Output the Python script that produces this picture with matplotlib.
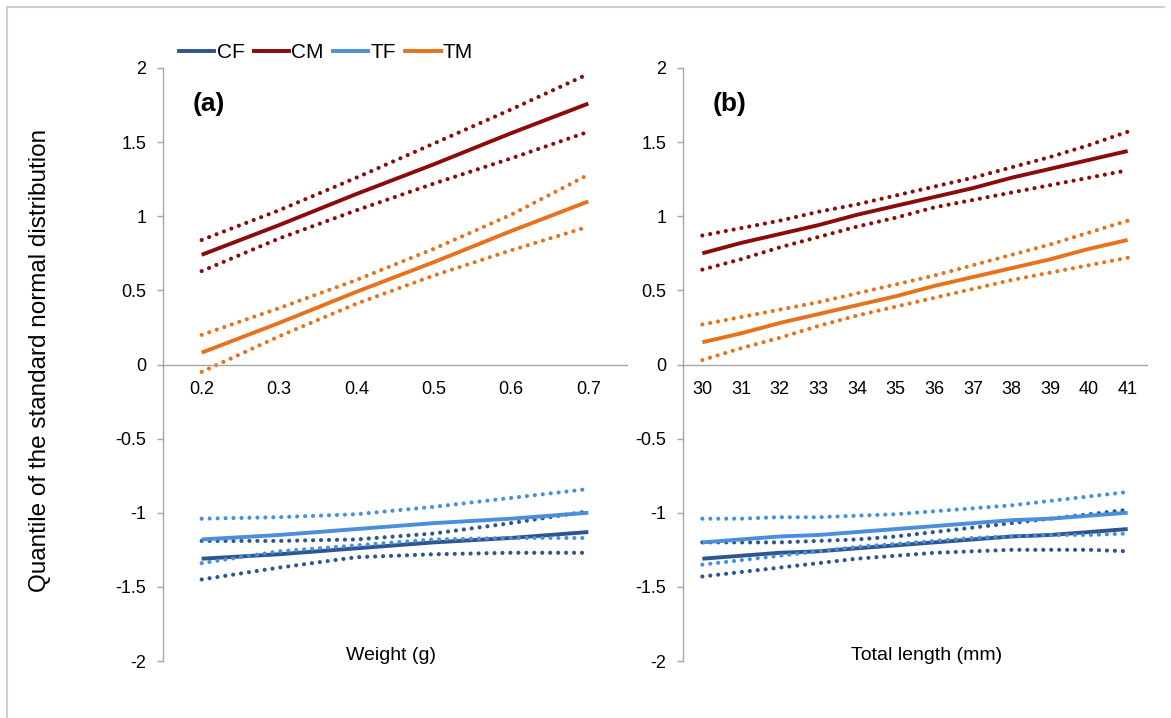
import matplotlib.pyplot as plt
from matplotlib.lines import Line2D

plt.rcParams['font.family'] = ['Liberation Sans', 'DejaVu Sans']

# panel (a): weight categories
weight = [0.2, 0.3, 0.4, 0.5, 0.6, 0.7]
cm_w = [0.74, 0.94, 1.15, 1.35, 1.56, 1.76]
cm_w_hi = [0.84, 1.04, 1.26, 1.49, 1.72, 1.96]
cm_w_lo = [0.63, 0.85, 1.04, 1.22, 1.39, 1.57]
tm_w = [0.08, 0.28, 0.49, 0.69, 0.90, 1.10]
tm_w_hi = [0.20, 0.38, 0.57, 0.78, 1.01, 1.28]
tm_w_lo = [-0.05, 0.19, 0.41, 0.60, 0.77, 0.93]
tf_w = [-1.18, -1.15, -1.11, -1.07, -1.04, -1.00]
tf_w_hi = [-1.04, -1.03, -1.01, -0.96, -0.90, -0.84]
tf_w_lo = [-1.34, -1.26, -1.22, -1.18, -1.17, -1.17]
cf_w = [-1.31, -1.28, -1.24, -1.20, -1.17, -1.13]
cf_w_hi = [-1.19, -1.19, -1.18, -1.14, -1.07, -0.99]
cf_w_lo = [-1.45, -1.37, -1.30, -1.28, -1.27, -1.27]

# panel (b): total length categories
length = [30, 31, 32, 33, 34, 35, 36, 37, 38, 39, 40, 41]
cm_l = [0.75, 0.82, 0.88, 0.94, 1.01, 1.07, 1.13, 1.19, 1.26, 1.32, 1.38, 1.44]
cm_l_hi = [0.87, 0.92, 0.97, 1.03, 1.08, 1.14, 1.20, 1.26, 1.33, 1.40, 1.48, 1.57]
cm_l_lo = [0.64, 0.71, 0.79, 0.86, 0.93, 0.99, 1.06, 1.11, 1.16, 1.21, 1.26, 1.31]
tm_l = [0.15, 0.21, 0.28, 0.34, 0.40, 0.46, 0.53, 0.59, 0.65, 0.71, 0.78, 0.84]
tm_l_hi = [0.27, 0.32, 0.37, 0.42, 0.48, 0.54, 0.60, 0.67, 0.74, 0.81, 0.89, 0.97]
tm_l_lo = [0.03, 0.11, 0.18, 0.26, 0.33, 0.39, 0.45, 0.51, 0.57, 0.62, 0.67, 0.72]
tf_l = [-1.20, -1.18, -1.16, -1.15, -1.13, -1.11, -1.09, -1.07, -1.05, -1.04, -1.02, -1.00]
tf_l_hi = [-1.04, -1.04, -1.03, -1.03, -1.02, -1.01, -0.99, -0.97, -0.95, -0.92, -0.89, -0.86]
tf_l_lo = [-1.35, -1.32, -1.29, -1.26, -1.23, -1.21, -1.19, -1.17, -1.16, -1.15, -1.15, -1.14]
cf_l = [-1.31, -1.29, -1.27, -1.26, -1.24, -1.22, -1.20, -1.18, -1.16, -1.15, -1.13, -1.11]
cf_l_hi = [-1.20, -1.20, -1.20, -1.19, -1.18, -1.16, -1.13, -1.10, -1.07, -1.04, -1.01, -0.98]
cf_l_lo = [-1.43, -1.40, -1.37, -1.34, -1.31, -1.29, -1.27, -1.26, -1.25, -1.25, -1.25, -1.26]

groups = ['CF', 'CM', 'TF', 'TM']
colors = {'CF': '#2E5590', 'CM': '#8B0A0A', 'TF': '#4A8FDB', 'TM': '#E8711C'}

panel_a = {'CF': (cf_w, cf_w_hi, cf_w_lo), 'CM': (cm_w, cm_w_hi, cm_w_lo),
           'TF': (tf_w, tf_w_hi, tf_w_lo), 'TM': (tm_w, tm_w_hi, tm_w_lo)}
panel_b = {'CF': (cf_l, cf_l_hi, cf_l_lo), 'CM': (cm_l, cm_l_hi, cm_l_lo),
           'TF': (tf_l, tf_l_hi, tf_l_lo), 'TM': (tm_l, tm_l_hi, tm_l_lo)}

grey = '#A6A6A6'
dots = (0, (0.01, 1.9))

fig = plt.figure(figsize=(11.71, 7.18), dpi=100)
ax1 = fig.add_axes([163 / 1171, 57 / 718, 464 / 1171, 593 / 718])
ax2 = fig.add_axes([683 / 1171, 57 / 718, 464 / 1171, 593 / 718])


def draw(ax, xs, data, step, label):
    for g in groups:
        fit, hi, lo = data[g]
        c = colors[g]
        ax.plot(xs, hi, color=c, lw=3.0, linestyle=dots, dash_capstyle='round')
        ax.plot(xs, lo, color=c, lw=3.0, linestyle=dots, dash_capstyle='round')
        ax.plot(xs, fit, color=c, lw=2.8, solid_capstyle='butt')
    ax.set_xlim(xs[0] - step / 2, xs[-1] + step / 2)
    ax.set_ylim(-2, 2)
    ax.set_xticks(xs)
    ax.set_xticklabels([f'{v:g}' for v in xs])
    ax.set_yticks([-2, -1.5, -1, -0.5, 0, 0.5, 1, 1.5, 2])
    ax.set_yticklabels(['-2', '-1.5', '-1', '-0.5', '0', '0.5', '1', '1.5', '2'])
    ax.spines['top'].set_visible(False)
    ax.spines['right'].set_visible(False)
    ax.spines['bottom'].set_position(('data', 0))
    for s in ('left', 'bottom'):
        ax.spines[s].set_color(grey)
        ax.spines[s].set_linewidth(1.0)
    ax.tick_params(axis='y', direction='out', length=4, width=1, color=grey,
                   labelsize=13, pad=8)
    ax.tick_params(axis='x', length=0, labelsize=13, pad=12)
    ax.text(0.063, 0.94, label, transform=ax.transAxes, fontsize=19,
            fontweight='bold', va='center', ha='left')
    ax.patch.set_alpha(0)


draw(ax1, weight, panel_a, 0.1, '(a)')
draw(ax2, length, panel_b, 1, '(b)')

fig.text(391 / 1171, 1 - 655 / 718, 'Weight (g)', ha='center', va='center', fontsize=14)
fig.text(927 / 1171, 1 - 655 / 718, 'Total length (mm)', ha='center', va='center', fontsize=14)
fig.text(40 / 1171, 1 - 360 / 718, 'Quantile of the standard normal distribution',
         rotation=90, ha='center', va='center', fontsize=17.5)

handles = [Line2D([], [], color=colors[g], lw=2.8) for g in groups]
fig.legend(handles, groups, loc='center left', bbox_to_anchor=(179 / 1171, 1 - 53 / 718),
           ncol=4, frameon=False, fontsize=15, handlelength=1.7, handletextpad=0.1,
           columnspacing=0.45, borderpad=0, borderaxespad=0)

# outer chart frame
fig.add_artist(Line2D([7 / 1171, 7 / 1171], [0, 1 - 7 / 718], color='#D0D0D0', lw=1.5))
fig.add_artist(Line2D([7 / 1171, 1164 / 1171], [1 - 7 / 718, 1 - 7 / 718], color='#D0D0D0', lw=1.5))

fig.savefig('out.png', dpi=100)
